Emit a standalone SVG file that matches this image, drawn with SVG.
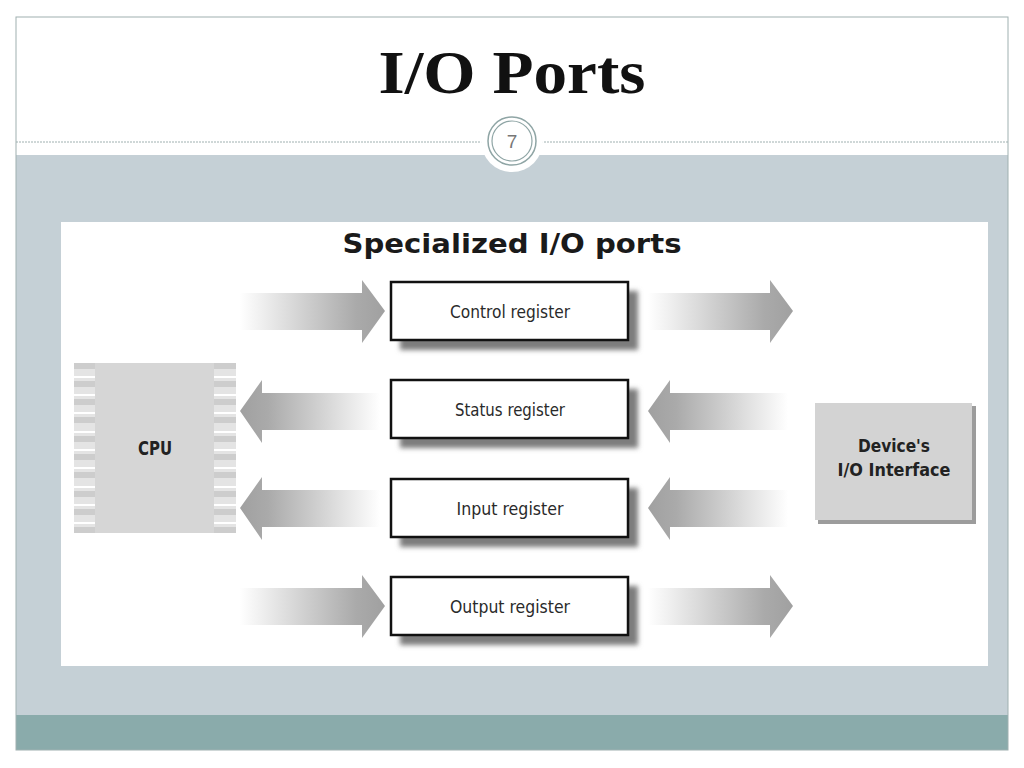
<svg xmlns="http://www.w3.org/2000/svg" width="1024" height="768" viewBox="0 0 1024 768">
<defs>
<style>
.reg{fill:#fff;stroke:#111;stroke-width:2.5}
.regtxt{font-family:"Liberation Sans Narrow","DejaVu Sans Condensed","Liberation Sans",sans-serif;font-size:18px;fill:#2a2a2a;text-anchor:middle}
.bold{font-family:"DejaVu Sans Condensed","Liberation Sans",sans-serif;font-weight:bold;fill:#222;text-anchor:middle}
</style>
<linearGradient id="gr" x1="0" y1="0" x2="1" y2="0"><stop offset="0" stop-color="#fff"/><stop offset="0.8" stop-color="#aaa"/><stop offset="1" stop-color="#a0a0a0"/></linearGradient>
<linearGradient id="gl" x1="1" y1="0" x2="0" y2="0"><stop offset="0" stop-color="#fff"/><stop offset="0.8" stop-color="#aaa"/><stop offset="1" stop-color="#a0a0a0"/></linearGradient>
<filter id="blur" x="-20%" y="-40%" width="140%" height="180%"><feGaussianBlur stdDeviation="2.5"/></filter>
<path id="ar" d="M0,-18 L122,-18 L122,-31 L145,0 L122,32 L122,19 L0,19 Z"/>
<path id="al" d="M0,0 L22,-31 L22,-18 L140,-18 L140,19 L22,19 L22,32 Z"/>
</defs>
<rect width="1024" height="768" fill="#fff"/>
<!-- slide frame -->
<rect x="16" y="155" width="992" height="560" fill="#c5d0d6"/>
<rect x="16" y="715" width="992" height="35" fill="#8aabab"/>
<rect x="16" y="17" width="992" height="733" fill="none" stroke="#9fb0b0" stroke-width="1"/>
<line x1="16" y1="142" x2="1008" y2="142" stroke="#9fb0b0" stroke-width="1" stroke-dasharray="2,1"/>
<circle cx="512" cy="141" r="31" fill="#fff"/>
<circle cx="512" cy="141" r="24" fill="#fff" stroke="#8fa5a5" stroke-width="1.5"/>
<circle cx="512" cy="141" r="20" fill="none" stroke="#8fa5a5" stroke-width="1.2"/>
<text x="512" y="148" font-family="Liberation Sans,sans-serif" font-size="19" fill="#777" text-anchor="middle">7</text>
<text x="512" y="93" font-family="Liberation Serif,serif" font-weight="bold" font-size="62" fill="#111" text-anchor="middle" textLength="267" lengthAdjust="spacingAndGlyphs">I/O Ports</text>
<!-- picture -->
<rect x="61" y="222" width="927" height="444" fill="#fff"/>
<text x="512" y="253" font-family="DejaVu Sans,sans-serif" font-weight="bold" font-size="27" fill="#1a1a1a" text-anchor="middle" textLength="339" lengthAdjust="spacingAndGlyphs">Specialized I/O ports</text>
<g id="connectors">
<use href="#ar" x="240" y="311" fill="url(#gr)"/>
<use href="#ar" x="648" y="311" fill="url(#gr)"/>
<use href="#al" x="240" y="411" fill="url(#gl)"/>
<use href="#al" x="648" y="411" fill="url(#gl)"/>
<use href="#al" x="240" y="508" fill="url(#gl)"/>
<use href="#al" x="648" y="508" fill="url(#gl)"/>
<use href="#ar" x="240" y="606" fill="url(#gr)"/>
<use href="#ar" x="648" y="606" fill="url(#gr)"/>
</g>
<g id="control">
<rect x="400" y="291" width="238" height="59" fill="#7d7d7d" filter="url(#blur)"/>
<rect class="reg" x="391" y="282" width="237" height="58"/>
<text class="regtxt" x="510" y="318" textLength="120" lengthAdjust="spacingAndGlyphs">Control register</text>
</g>
<g id="status">
<rect x="400" y="389" width="238" height="59" fill="#7d7d7d" filter="url(#blur)"/>
<rect class="reg" x="391" y="380" width="237" height="58"/>
<text class="regtxt" x="510" y="416" textLength="110" lengthAdjust="spacingAndGlyphs">Status register</text>
</g>
<g id="input">
<rect x="400" y="488" width="238" height="59" fill="#7d7d7d" filter="url(#blur)"/>
<rect class="reg" x="391" y="479" width="237" height="58"/>
<text class="regtxt" x="510" y="515" textLength="107" lengthAdjust="spacingAndGlyphs">Input register</text>
</g>
<g id="output">
<rect x="400" y="586" width="238" height="59" fill="#7d7d7d" filter="url(#blur)"/>
<rect class="reg" x="391" y="577" width="237" height="58"/>
<text class="regtxt" x="510" y="613" textLength="120" lengthAdjust="spacingAndGlyphs">Output register</text>
</g>
<g id="cpu">
<rect x="74" y="363" width="162" height="170" fill="#e4e4e4"/>
<g fill="#cdcdcd">
<rect x="74" y="363" width="162" height="6"/>
<rect x="74" y="381" width="21" height="6"/><rect x="214" y="381" width="22" height="6"/>
<rect x="74" y="399" width="21" height="6"/><rect x="214" y="399" width="22" height="6"/>
<rect x="74" y="417" width="21" height="6"/><rect x="214" y="417" width="22" height="6"/>
<rect x="74" y="436" width="21" height="6"/><rect x="214" y="436" width="22" height="6"/>
<rect x="74" y="454" width="21" height="6"/><rect x="214" y="454" width="22" height="6"/>
<rect x="74" y="472" width="21" height="6"/><rect x="214" y="472" width="22" height="6"/>
<rect x="74" y="491" width="21" height="6"/><rect x="214" y="491" width="22" height="6"/>
<rect x="74" y="509" width="21" height="6"/><rect x="214" y="509" width="22" height="6"/>
<rect x="74" y="527" width="162" height="6"/>
</g>
<g fill="#fff">
<rect x="74" y="376" width="21" height="2"/><rect x="214" y="376" width="22" height="2"/>
<rect x="74" y="394" width="21" height="2"/><rect x="214" y="394" width="22" height="2"/>
<rect x="74" y="412" width="21" height="2"/><rect x="214" y="412" width="22" height="2"/>
<rect x="74" y="431" width="21" height="2"/><rect x="214" y="431" width="22" height="2"/>
<rect x="74" y="449" width="21" height="2"/><rect x="214" y="449" width="22" height="2"/>
<rect x="74" y="467" width="21" height="2"/><rect x="214" y="467" width="22" height="2"/>
<rect x="74" y="486" width="21" height="2"/><rect x="214" y="486" width="22" height="2"/>
<rect x="74" y="504" width="21" height="2"/><rect x="214" y="504" width="22" height="2"/>
<rect x="74" y="522" width="21" height="2"/><rect x="214" y="522" width="22" height="2"/>
</g>
<rect x="95" y="363" width="119" height="170" fill="#d6d6d6"/>
<text class="bold" x="155" y="455" font-size="20" textLength="34" lengthAdjust="spacingAndGlyphs">CPU</text>
</g>
<g id="device">
<rect x="818" y="406" width="158" height="118" fill="#9c9c9c"/>
<rect x="815" y="403" width="157" height="117" fill="#d3d3d3"/>
<text class="bold" x="894" y="452" font-size="18" textLength="72" lengthAdjust="spacingAndGlyphs">Device's</text>
<text class="bold" x="894" y="476" font-size="18" textLength="113" lengthAdjust="spacingAndGlyphs">I/O Interface</text>
</g>
</svg>
